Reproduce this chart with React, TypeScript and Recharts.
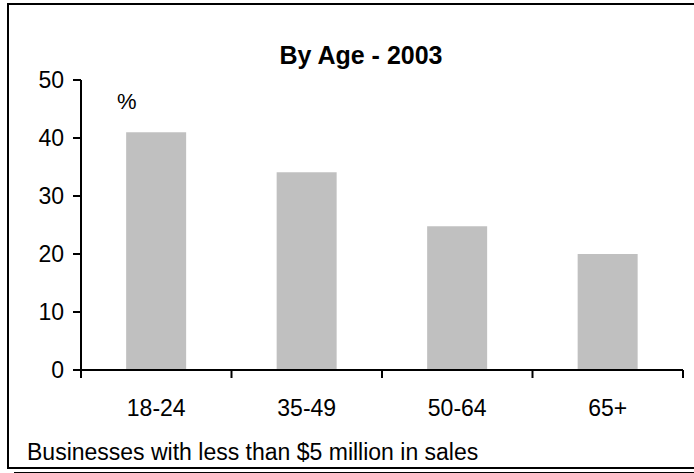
import { BarChart, Bar, XAxis, YAxis } from 'recharts';

// Share of owners by age group, 2003 (%)
const ageGroups = ['18-24', '35-49', '50-64', '65+'];
const shares = [41, 34.1, 24.8, 20];
const yTicks = [0, 10, 20, 30, 40, 50];

const data = ageGroups.map((age, i) => ({ age, share: shares[i] }));

const FONT = '"Liberation Sans", Arial, sans-serif';
const axisStroke = { stroke: '#000', strokeWidth: 2 };

// Category label with Excel-style tick marks on the band edges
function AgeTick(props: any) {
  const { x, y, payload, index, visibleTicksCount } = props;
  const half = payload.offset ?? 0;
  const isLast = index === visibleTicksCount - 1;
  return (
    <g>
      <line x1={x - half} x2={x - half} y1={y} y2={y + 8} stroke="#000" strokeWidth={2} />
      {isLast && (
        <line x1={x + half} x2={x + half} y1={y} y2={y + 8} stroke="#000" strokeWidth={2} />
      )}
      <text
        x={x}
        y={y + 46}
        textAnchor="middle"
        fontSize={23}
        fontFamily={FONT}
        fill="#000"
      >
        {payload.value}
      </text>
    </g>
  );
}

export default function App() {
  return (
    <div
      style={{
        position: 'absolute',
        left: 0,
        top: 0,
        width: 694,
        height: 473,
        background: '#fff',
        fontFamily: FONT,
        overflow: 'hidden',
      }}
    >
      {/* frame */}
      <div
        style={{
          position: 'absolute',
          left: 7,
          top: 3,
          width: 720,
          height: 462,
          borderTop: '2px solid #000',
          borderLeft: '2px solid #000',
          borderBottom: '2px solid #000',
        }}
      />
      <div
        style={{
          position: 'absolute',
          left: 14,
          top: 472,
          width: 700,
          height: 1,
          background: '#000',
        }}
      />

      <BarChart
        width={694}
        height={473}
        data={data}
        margin={{ top: 80, right: 11, bottom: 43, left: 41 }}
        barCategoryGap="30%"
      >
        <XAxis
          dataKey="age"
          height={60}
          axisLine={axisStroke}
          tickLine={false}
          tickSize={0}
          tickMargin={0}
          tick={<AgeTick />}
        />
        <YAxis
          width={40}
          domain={[0, 50]}
          ticks={yTicks}
          tickSize={8}
          tickMargin={9}
          axisLine={axisStroke}
          tickLine={axisStroke}
          tick={{ fill: '#000', fontSize: 23, fontFamily: FONT }}
        />
        <Bar dataKey="share" fill="#c0c0c0" isAnimationActive={false} />
      </BarChart>

      <div
        style={{
          position: 'absolute',
          left: 0,
          width: 722,
          top: 41,
          lineHeight: '28px',
          textAlign: 'center',
          fontSize: 25,
          fontWeight: 'bold',
        }}
      >
        By Age - 2003
      </div>
      <div style={{ position: 'absolute', left: 117, top: 91, fontSize: 22, lineHeight: '22px' }}>%</div>
      <div style={{ position: 'absolute', left: 27, top: 441, fontSize: 23, lineHeight: '23px' }}>
        Businesses with less than $5 million in sales
      </div>
    </div>
  );
}
